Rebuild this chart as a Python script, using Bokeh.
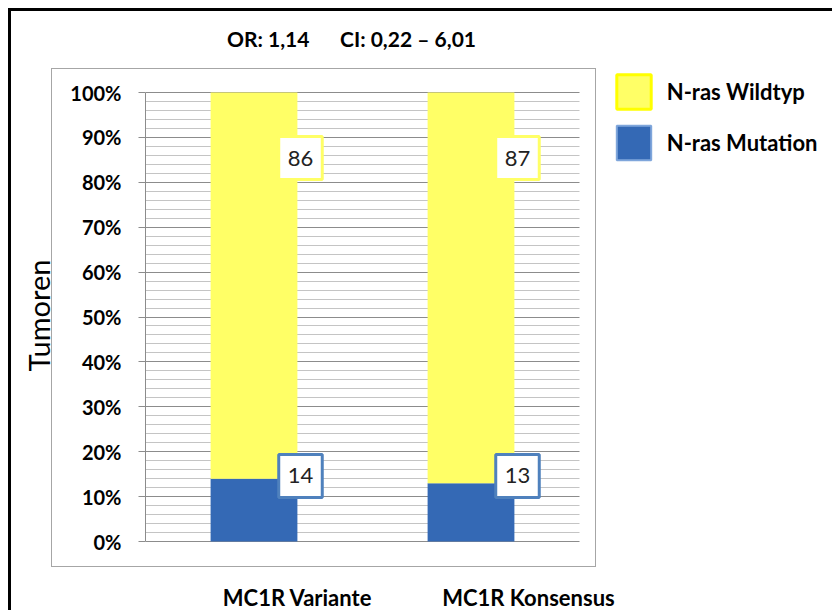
from bokeh.plotting import figure
from bokeh.models import (ColumnDataSource, Range1d, Label, BoxAnnotation,
                          Legend, LegendItem, PrintfTickFormatter,
                          FixedTicker, InlineStyleSheet)
from bokeh.embed import file_html
from bokeh.resources import INLINE

# ---------------- data ----------------
title_parts = ["OR: 1,14", "CI: 0,22 – 6,01"]
categories = ["MC1R Variante", "MC1R Konsensus"]
mutation = [14, 13]          # N-ras Mutation (%)
wildtyp = [86, 87]           # N-ras Wildtyp (%)
series_names = ["N-ras Wildtyp", "N-ras Mutation"]
y_ticks = [0, 10, 20, 30, 40, 50, 60, 70, 80, 90, 100]
y_minor_ticks = [2, 4, 6, 8, 12, 14, 16, 18, 22, 24, 26, 28, 32, 34, 36, 38,
                 42, 44, 46, 48, 52, 54, 56, 58, 62, 64, 66, 68, 72, 74, 76, 78,
                 82, 84, 86, 88, 92, 94, 96, 98]
y_axis_label = "Tumoren"

# ---------------- style ----------------
FONT = "Lato"
YELLOW = "#FFFF66"
YELLOW_EDGE = "#FFFF00"
BLUE = "#3469B5"
BLUE_EDGE = "#4F81BD"
MAJOR_GRID = "#8C8C8C"
MINOR_GRID = "#C4C4C4"

# layout (pixels): plotting box of the bars / percent scale
LEFT, RIGHT_BARS, TOP_100, BOTTOM_0 = 145, 579, 92, 541
FRAME_TOP, FRAME_RIGHT, FRAME_BOTTOM = 20, 832, 610
BAND_PX = (RIGHT_BARS - LEFT) / len(categories)
PX_PER_PCT = (BOTTOM_0 - TOP_100) / 100.0
X_END = len(categories) * (FRAME_RIGHT - LEFT) / (RIGHT_BARS - LEFT)
Y_START = -(FRAME_BOTTOM - BOTTOM_0) / PX_PER_PCT
Y_END = (BOTTOM_0 - FRAME_TOP) / PX_PER_PCT

css = InlineStyleSheet(css="""
:host { position: relative; }
:host::before { content: ""; position: absolute; left: 8px; top: 8px;
  width: 824px; height: 602px; border-left: 3px solid #000; border-top: 3px solid #000;
  box-sizing: border-box; pointer-events: none; z-index: 5; }
:host::after { content: ""; position: absolute; left: 51px; top: 68px;
  width: 545px; height: 499px; border: 1.5px solid #A6A6A6;
  box-sizing: border-box; pointer-events: none; z-index: 5; }
""")

# category bands: category i occupies [i, i+1], centre at i + 0.5
cat_pos = [i + 0.5 for i in range(len(categories))]

p = figure(width=832, height=610,
           x_range=Range1d(0, X_END),
           y_range=Range1d(Y_START, Y_END),
           x_axis_location=None,
           output_backend="svg", toolbar_location=None,
           min_border_left=LEFT, min_border_right=0,
           min_border_top=FRAME_TOP, min_border_bottom=0,
           background_fill_color="white", border_fill_color="white",
           outline_line_color=None, stylesheets=[css])

source = ColumnDataSource(dict(x=cat_pos, cat=categories, mut=mutation, wild=wildtyp))
p.vbar_stack(["mut", "wild"], x="x", width=0.4, source=source,
             fill_color=[BLUE, YELLOW], line_color=None)

# grid (only across the category bands; the 0 % line doubles as the category axis)
p.xgrid.grid_line_color = None
p.ygrid.grid_line_color = MAJOR_GRID
p.ygrid.grid_line_width = 1
p.ygrid.minor_grid_line_color = MINOR_GRID
p.ygrid.minor_grid_line_width = 1
ygrid = p.ygrid[0]
if "cross_bounds" in ygrid.properties():
    ygrid.cross_bounds = (0, len(categories))
else:
    p.add_layout(BoxAnnotation(left=len(categories), right=X_END, bottom=Y_START,
                               top=Y_END, fill_color="white", fill_alpha=1,
                               line_color=None, level="underlay"))

# y axis
p.yaxis.bounds = (0, 100)
p.yaxis.ticker = FixedTicker(ticks=y_ticks, minor_ticks=y_minor_ticks)
p.yaxis.formatter = PrintfTickFormatter(format="%d%%")
p.yaxis.axis_line_color = MAJOR_GRID
p.yaxis.major_tick_line_color = MAJOR_GRID
p.yaxis.major_tick_out = 7
p.yaxis.major_tick_in = 0
p.yaxis.minor_tick_line_color = None
p.yaxis.major_label_standoff = 17
p.yaxis.major_label_text_font = FONT
p.yaxis.major_label_text_font_style = "bold"
p.yaxis.major_label_text_font_size = "20px"
p.yaxis.major_label_text_color = "black"
p.yaxis.axis_label = y_axis_label
p.yaxis.axis_label_text_font = FONT
p.yaxis.axis_label_text_font_style = "normal"
p.yaxis.axis_label_text_font_size = "29px"
p.yaxis.axis_label_text_color = "black"
p.yaxis.axis_label_standoff = 11

# category labels below the 0 % line, right of the bar centres as in the original
cat_label_shift_px = [43.5, 57.5]
for xc, cat, dx in zip(cat_pos, categories, cat_label_shift_px):
    p.add_layout(Label(x=xc, y=0, x_offset=dx, y_offset=-56, text=cat,
                       text_align="center", text_baseline="middle",
                       text_font=FONT, text_font_style="bold",
                       text_font_size="22px", text_color="black"))

# title line
title_text = title_parts[0] + "\u00a0" * 5 + " " + title_parts[1]
p.add_layout(Label(x=351 - LEFT, y=FRAME_BOTTOM - 38, x_units="screen", y_units="screen",
                   text=title_text, text_align="center", text_baseline="middle",
                   text_font=FONT, text_font_style="bold", text_font_size="21px",
                   text_color="black"))

# value labels
WILD_LABEL_Y = 85.4
MUT_LABEL_Y = 14.6
LABEL_SHIFT_PX = 46.5
box_pad = dict(left=9, right=9, top=14, bottom=14)
for xc, w, m in zip(cat_pos, wildtyp, mutation):
    p.add_layout(Label(x=xc, y=WILD_LABEL_Y, x_offset=LABEL_SHIFT_PX, text=str(w),
                       text_align="center", text_baseline="middle",
                       text_font=FONT, text_font_size="22px", text_color="#222222",
                       background_fill_color="white", border_line_color=YELLOW,
                       border_line_width=3, padding=box_pad))
    p.add_layout(Label(x=xc, y=MUT_LABEL_Y, x_offset=LABEL_SHIFT_PX, text=str(m),
                       text_align="center", text_baseline="middle",
                       text_font=FONT, text_font_size="22px", text_color="#222222",
                       background_fill_color="white", border_line_color=BLUE_EDGE,
                       border_line_width=3, padding=box_pad))

# legend: hidden proxy renderers that carry the swatch styling
r_wild = p.vbar(x="x", top="wild", width=0.4, source=source, visible=False,
                fill_color=YELLOW, line_color=YELLOW_EDGE, line_width=3)
r_mut = p.vbar(x="x", top="mut", width=0.4, source=source, visible=False,
               fill_color=BLUE, line_color="#7FA6DB", line_width=2)
legend = Legend(items=[LegendItem(label=series_names[0], renderers=[r_wild]),
                       LegendItem(label=series_names[1], renderers=[r_mut])],
                location=(466.7, 446.1), orientation="vertical",
                glyph_width=43, glyph_height=43, spacing=8, label_standoff=12,
                padding=0, margin=0, border_line_color=None,
                background_fill_alpha=0, inactive_fill_alpha=0,
                label_text_font=FONT, label_text_font_style="bold",
                label_text_font_size="22px", label_text_color="black",
                label_text_baseline="middle")
p.add_layout(legend)

open("out.html", "w").write(file_html(p, INLINE))
